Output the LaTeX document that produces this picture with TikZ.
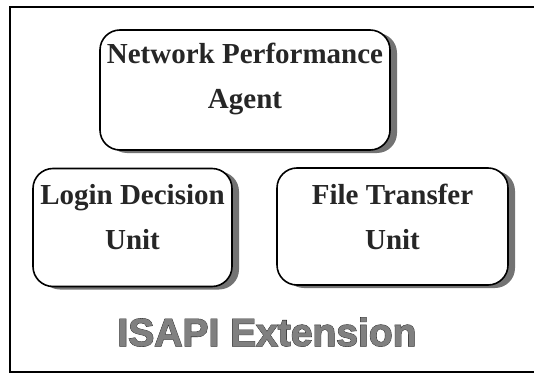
\documentclass[tikz,border=0pt]{standalone}
\usepackage{fontspec}
\setmainfont{Liberation Serif}
\setsansfont{Liberation Sans}
\newfontfamily\isapiheavy[FakeBold=3]{Liberation Sans Bold}
\newfontfamily\isapilight[FakeBold=1.2]{Liberation Sans Bold}
\usetikzlibrary{positioning}
\usetikzlibrary{shadows}

\begin{document}
\begin{tikzpicture}[x=1pt, y=1pt,
    unitbox/.style={draw, line width=1.6pt, fill=white, rounded corners=20pt,
      drop shadow={shadow xshift=7pt, shadow yshift=-3pt, fill=black!55, opacity=1}},
    unittext/.style={align=center, text=black!85, inner sep=0pt,
      font=\fontsize{29}{45}\selectfont\bfseries},
    titletext/.style={inner sep=0pt, font=\fontsize{39}{42}\selectfont#1}]
    \useasboundingbox (0, 0) rectangle (534, -374);

    \draw [line width=1.3pt] (534, -7) -- (10, -7) -- (10, -372) -- (534, -372);

    \node [unitbox, minimum width=290, minimum height=120] (agent) at (245, -90) {};
    \node [unitbox, minimum width=199, minimum height=118] (login) at (132.5, -227.5) {};
    \node [unitbox, minimum width=231, minimum height=117] (transfer) at (392.5, -226.5) {};

    \node [unittext] (agenttxt) at ([yshift=11pt]agent.center) {Network Performance\\Agent};
    \node [unittext] (logintxt) at ([yshift=10pt]login.center) {Login Decision\\Unit};
    \node [unittext] (transfertxt) at ([yshift=10pt]transfer.center) {File Transfer\\Unit};

    \node [titletext=\isapiheavy, text=black!90] (isapi) at (267, -332) {ISAPI Extension};
    \node [titletext=\isapilight, text=black!50] (isapifill) at (isapi) {ISAPI Extension};

  \end{tikzpicture}
\end{document}
